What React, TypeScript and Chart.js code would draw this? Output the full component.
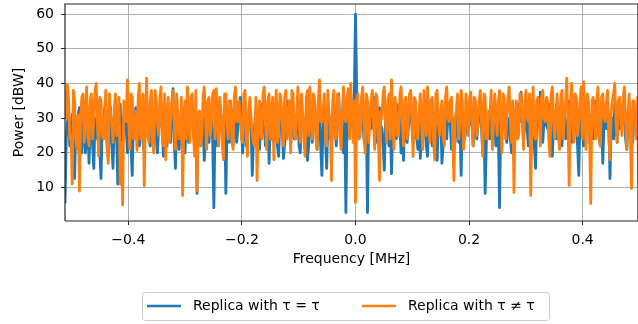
import { useEffect, useRef } from 'react';
import { Chart, registerables } from 'chart.js';

Chart.register(...registerables);

// Frequency grid (MHz)
const freqStart = -0.5116;
const freqStep = 0.002114;

// Series (dBW)
const blueValues = [
  5.5, 24, 29, 30, 22, 27, 31, 22, 12.6, 29, 27, 31, 33, 23, 20, 28, 30, 20, 24, 30,
  17, 27, 32, 22, 15.5, 30, 28, 24, 35, 20, 12.6, 29, 24, 33, 31, 23, 19, 28, 33, 22,
  15.5, 30, 29, 24, 11, 29, 34, 21, 23, 31, 30, 27, 20, 29, 33, 22, 13.5, 30, 28, 33,
  31, 24, 22, 30, 35, 23, 20, 29, 29, 32, 24, 22, 33, 28, 21, 31, 30, 20, 27, 29,
  34, 27, 19, 31, 29, 22, 32, 28, 23, 33, 38.5, 24, 15.5, 29, 30, 21, 24, 31, 33, 27,
  20, 30, 37, 23, 28, 33, 31, 27, 22, 29, 8.3, 31, 32, 22, 27, 30, 17.8, 24, 34, 28,
  23, 31, 30, 24, 4.2, 28, 33, 22, 27, 30, 31, 27, 19, 32, 8.3, 28, 29, 23, 34, 31,
  22, 29, 32, 23, 27, 31, 36, 27, 20, 29, 30, 22, 24, 31, 33, 28, 13.5, 24, 28, 32,
  31, 24, 21, 30, 34, 28, 27, 22, 30, 32, 17, 28, 32, 24, 23, 31, 29, 22, 19, 30,
  33, 27, 18.4, 23, 28, 31, 35, 28, 22, 30, 31, 24, 24, 29, 33, 22, 20, 31, 30, 27,
  27, 30, 17.8, 22, 32, 29, 23, 31, 34, 27, 21, 29, 30, 22, 13.5, 30, 28, 24, 15.5, 29,
  31, 24, 24, 30, 33, 28, 22, 31, 37, 27, 29, 22, 20, 30, 2.8, 32, 33, 27, 36, 33,
  30, 37, 60, 38, 34, 28, 27, 33, 31, 24, 22, 29, 2.8, 30, 32, 27, 28, 31, 36, 29,
  23, 30, 33, 28, 27, 22, 15, 29, 30, 24, 22, 30, 14, 27, 31, 29, 24, 31, 34, 27,
  20, 28, 17.8, 30, 31, 23, 27, 31, 33, 28, 23, 29, 30, 24, 21, 30, 18.4, 27, 32, 28,
  27, 22, 19, 30, 33, 27, 22, 28, 30, 23, 17.8, 29, 28, 31, 17, 22, 32, 29, 24, 31,
  34, 28, 21, 30, 29, 23, 31, 27, 23, 29, 13.5, 31, 32, 24, 27, 30, 30, 28, 36, 29,
  22, 29, 31, 24, 28, 31, 33, 27, 20, 30, 8.3, 23, 30, 28, 24, 31, 34, 29, 27, 22,
  31, 27, 4.2, 30, 29, 31, 33, 28, 23, 29, 30, 24, 20, 30, 32, 28, 27, 31, 34, 29,
  37.5, 30, 24, 28, 31, 27, 22, 31, 33, 29, 28, 22, 15.5, 31, 30, 28, 37.5, 30, 23, 29,
  32, 28, 27, 30, 34, 24, 19, 29, 30, 27, 24, 31, 33, 28, 22, 29, 31, 24, 28, 30,
  35, 28, 23, 31, 30, 27, 27, 22, 13.5, 29, 32, 27, 22, 30, 34, 29, 28, 23, 31, 28,
  24, 30, 35, 28, 29, 24, 22, 30, 17, 29, 32, 27, 27, 31, 12.6, 29, 30, 24, 34, 28,
  23, 29, 31, 27, 28, 30, 33, 24, 21, 28, 30, 31, 24, 23, 32, 29, 27, 30, 29, 28,
];

const orangeValues = [
  38, 30, 39.5, 35, 24, 25, 11, 38, 35, 24, 21, 31, 9, 29, 36, 37, 23, 30, 39, 25,
  22, 35, 37, 24, 30, 38, 40, 29, 19, 36, 35, 25, 24, 31, 38, 22, 17, 37, 31, 29,
  23, 32, 37, 25, 30, 36, 11, 23, 5, 35, 31, 29, 41, 30, 21, 37, 36, 24, 24, 32,
  20.7, 36, 40, 24, 29, 37, 10.5, 30, 41.5, 25, 23, 35, 38, 23, 20, 38, 35, 29, 25, 36,
  39, 25, 22, 37, 18, 30, 36, 23, 29, 35, 38, 29, 21, 37, 31, 24, 24, 36, 7.7, 30,
  35, 24, 39, 31, 23, 36, 37, 25, 19, 38, 9, 29, 32, 22, 25, 36, 39, 30, 21, 35,
  36, 25, 29, 37, 38, 24, 38.5, 32, 22, 36, 32, 23, 18, 37, 37, 29, 24, 35, 35, 24,
  21, 36, 39, 29, 29, 35, 31, 24, 23, 37, 38, 25, 19, 32, 36, 30, 25, 23, 22, 36,
  12, 30, 35, 25, 24, 37, 39, 29, 21, 35, 37, 24, 30, 36, 18, 31, 38, 23, 25, 37,
  35, 29, 22, 36, 38, 24, 29, 35, 20, 38, 37, 25, 24, 31, 39, 29, 23, 37, 32, 24,
  19, 36, 38, 25, 39, 30, 24, 37, 35, 24, 21, 35, 41, 29, 29, 32, 37, 24, 22, 38,
  31, 29, 12, 35, 38, 24, 24, 37, 36, 25, 21, 32, 39, 30, 29, 36, 38.5, 24, 40, 31,
  23, 35, 5.7, 30, 37, 24, 25, 36, 39, 29, 20, 37, 35, 23, 29, 35, 38, 29, 21, 37,
  36, 25, 12, 32, 30, 37, 39, 29, 23, 35, 37, 24, 41, 30, 21, 36, 32, 25, 25, 37,
  39, 30, 22, 35, 36, 24, 29, 37, 38, 29, 19, 36, 35, 25, 24, 32, 37, 29, 21, 38,
  31, 25, 39, 31, 23, 35, 36, 24, 18, 37, 38, 29, 25, 32, 35, 25, 22, 36, 39, 30,
  29, 35, 36, 24, 12, 30, 32, 37, 24, 29, 38, 35, 21, 25, 37, 31, 25, 36, 37.5, 29,
  22, 36, 35, 25, 29, 35, 38, 29, 19, 37, 36, 24, 24, 32, 31, 38, 21, 29, 37, 31,
  25, 35, 38, 29, 20, 37, 36, 24, 30, 36, 39, 30, 23, 35, 8.6, 29, 35, 24, 25, 37,
  37, 29, 21, 35, 38, 30, 29, 37, 7.7, 31, 39, 25, 24, 35, 36, 29, 22, 36, 38, 30,
  29, 36, 35, 24, 19, 37, 39, 29, 24, 32, 37, 25, 21, 36, 38, 24, 30, 35, 41.5, 29,
  10.6, 32, 40, 29, 23, 37, 36, 25, 29, 35, 39, 24, 40.5, 30, 21, 37, 35, 25, 5.4, 35,
  36, 29, 24, 35, 39, 25, 22, 36, 37, 30, 29, 35, 38, 24, 18, 32, 35, 37, 40, 29,
  23, 35, 36, 30, 25, 36, 39, 29, 21, 31, 37, 25, 9.7, 35, 35, 30, 24, 36, 10, 30,
];

const seriesLabels = ['Replica with τ = τ', 'Replica with τ ≠ τ'];
const seriesColors = ['#1f77b4', '#ff7f0e'];

const xTicks = [-0.4, -0.2, 0, 0.2, 0.4];
const xTickLabels = ['−0.4', '−0.2', '0.0', '0.2', '0.4'];
const yTicks = [10, 20, 30, 40, 50, 60];
const yTickLabels = ['10', '20', '30', '40', '50', '60'];

const xTitle = 'Frequency [MHz]';
const yTitle = 'Power [dBW]';

const FONT = '"DejaVu Sans", sans-serif';

const decorPlugin = {
  id: 'decor',
  afterDatasetsDraw(chart: any) {
    const { ctx, chartArea } = chart;
    const { left, right, top, bottom } = chartArea;
    ctx.save();
    ctx.strokeStyle = '#262626';
    ctx.lineWidth = 1.2;
    ctx.beginPath();
    ctx.moveTo(left, bottom);
    ctx.lineTo(left, top);
    ctx.lineTo(right, top);
    ctx.lineTo(right, bottom);
    ctx.lineTo(left, bottom);
    ctx.stroke();
    ctx.restore();
  },
  afterDraw(chart: any) {
    const { ctx, chartArea } = chart;
    ctx.save();
    ctx.fillStyle = '#000';
    ctx.font = `14px ${FONT}`;
    ctx.textAlign = 'center';
    ctx.textBaseline = 'middle';
    ctx.fillText(xTitle, (chartArea.left + chartArea.right) / 2, 259);
    ctx.save();
    ctx.translate(19, (chartArea.top + chartArea.bottom) / 2);
    ctx.rotate(-Math.PI / 2);
    ctx.fillText(yTitle, 0, 0);
    ctx.restore();

    // legend
    const bx = 142.5, by = 292.5, bw = 407, bh = 28, r = 3;
    ctx.beginPath();
    ctx.moveTo(bx + r, by);
    ctx.lineTo(bx + bw - r, by);
    ctx.arcTo(bx + bw, by, bx + bw, by + r, r);
    ctx.lineTo(bx + bw, by + bh - r);
    ctx.arcTo(bx + bw, by + bh, bx + bw - r, by + bh, r);
    ctx.lineTo(bx + r, by + bh);
    ctx.arcTo(bx, by + bh, bx, by + bh - r, r);
    ctx.lineTo(bx, by + r);
    ctx.arcTo(bx, by, bx + r, by, r);
    ctx.closePath();
    ctx.fillStyle = 'rgba(255,255,255,0.8)';
    ctx.fill();
    ctx.strokeStyle = '#cccccc';
    ctx.lineWidth = 1;
    ctx.stroke();

    const ly = by + 13.5;
    const entries = [
      { x0: 147, x1: 181, tx: 193 },
      { x0: 362, x1: 396, tx: 408 },
    ];
    entries.forEach((e, i) => {
      ctx.strokeStyle = seriesColors[i];
      ctx.lineWidth = 2.6;
      ctx.beginPath();
      ctx.moveTo(e.x0, ly);
      ctx.lineTo(e.x1, ly);
      ctx.stroke();
      ctx.fillStyle = '#000';
      ctx.textAlign = 'left';
      ctx.textBaseline = 'middle';
      ctx.font = `14px ${FONT}`;
      ctx.fillText(seriesLabels[i], e.tx, ly);
    });
    ctx.restore();
  },
};

export default function App() {
  const canvasRef = useRef<HTMLCanvasElement | null>(null);

  useEffect(() => {
    const canvas = canvasRef.current;
    if (!canvas) return;
    const toPoints = (vals: number[]) => vals.map((v, i) => ({ x: freqStart + i * freqStep, y: v }));
    const chart = new Chart(canvas, {
      type: 'line',
      data: {
        datasets: [
          {
            label: seriesLabels[0],
            data: toPoints(blueValues),
            borderColor: seriesColors[0],
            backgroundColor: seriesColors[0],
            borderWidth: 2.8,
            pointRadius: 0,
            tension: 0,
            borderJoinStyle: 'round',
            order: 2,
          },
          {
            label: seriesLabels[1],
            data: toPoints(orangeValues),
            borderColor: seriesColors[1],
            backgroundColor: seriesColors[1],
            borderWidth: 2.8,
            pointRadius: 0,
            tension: 0,
            borderJoinStyle: 'round',
            order: 1,
          },
        ],
      },
      options: {
        responsive: false,
        animation: false,
        devicePixelRatio: 1,
        layout: { padding: { left: 0, right: 0, top: 4, bottom: 0 } },
        plugins: {
          legend: { display: false },
          tooltip: { enabled: false },
        },
        scales: {
          x: {
            type: 'linear',
            min: -0.5116,
            max: 0.4975,
            afterBuildTicks: (s: any) => {
              s.ticks = xTicks.map((v) => ({ value: v }));
            },
            afterFit: (s: any) => {
              s.height = 103;
              s.paddingLeft = 0;
              s.paddingRight = 0;
            },
            ticks: {
              callback: (_v: any, i: number) => xTickLabels[i],
              font: { family: FONT, size: 14 },
              color: '#000',
              padding: 7,
              maxRotation: 0,
              autoSkip: false,
            },
            grid: {
              color: '#b0b0b0',
              lineWidth: 1,
              tickColor: '#262626',
              tickLength: 4,
            },
            border: { display: false },
          },
          y: {
            type: 'linear',
            min: 0.35,
            max: 62.9,
            afterBuildTicks: (s: any) => {
              s.ticks = yTicks.map((v) => ({ value: v }));
            },
            afterFit: (s: any) => {
              s.width = 65;
              s.paddingTop = 0;
              s.paddingBottom = 0;
            },
            ticks: {
              callback: (_v: any, i: number) => yTickLabels[i],
              font: { family: FONT, size: 14 },
              color: '#000',
              padding: 7,
              autoSkip: false,
            },
            grid: {
              color: '#b0b0b0',
              lineWidth: 1,
              tickColor: '#262626',
              tickLength: 4,
            },
            border: { display: false },
          },
        },
      },
      plugins: [decorPlugin],
    } as any);
    return () => chart.destroy();
  }, []);

  return (
    <div style={{ position: 'absolute', left: 0, top: 0, width: 638, height: 324, background: '#fff' }}>
      <canvas ref={canvasRef} width={638} height={324} style={{ display: 'block' }} />
    </div>
  );
}
